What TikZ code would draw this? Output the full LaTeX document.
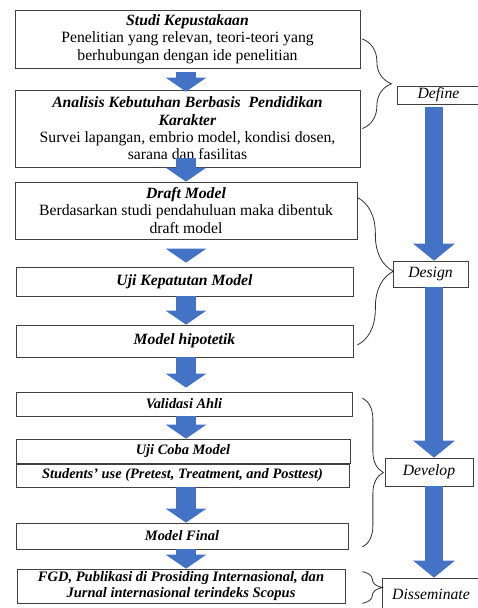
\documentclass[tikz,border=0pt]{standalone}
\usepackage{fontspec}
\setmainfont{Liberation Serif}
\usetikzlibrary{arrows.meta,decorations.pathreplacing,positioning}
\definecolor{arrowblue}{HTML}{4472C4}

\begin{document}
\begin{tikzpicture}[x=0.03cm,y=-0.03cm,
    box/.style={draw=black!75,line width=0.6pt,fill=white,inner sep=0pt,align=center,font=\fontsize{13.4}{14.8}\selectfont},
    smallbox/.style={box,font=\fontsize{12.3}{14}\selectfont\bfseries\itshape},
    stage/.style={draw=black!75,line width=0.6pt,fill=white,inner sep=0pt,font=\fontsize{13.4}{15}\selectfont\itshape},
    flow/.style={draw=arrowblue,line width=0.6cm,-{Triangle[width=1.2cm,length=0.42cm]}},
    phase/.style={draw=arrowblue,line width=0.54cm,-{Triangle[width=1.23cm,length=0.51cm]}},
    curly/.style={decorate,decoration={brace,amplitude=#1},draw=black!80,line width=0.7pt}]
    \useasboundingbox (0,0) rectangle (478,608);

    \node[box,minimum width=10.35cm,minimum height=1.74cm] (b1) at (187.5,39)
        {\textbf{\textit{Studi Kepustakaan}}\\Penelitian yang relevan, teori-teori yang\\berhubungan dengan ide penelitian};
    \node[box,minimum width=10.35cm,minimum height=2.31cm] (b2) at (187.5,128.5)
        {\textbf{\textit{Analisis Kebutuhan Berbasis\ \ Pendidikan}}\\\textbf{\textit{Karakter}}\\Survei lapangan, embrio model, kondisi dosen,\\sarana dan fasilitas};
    \node[box,minimum width=10.26cm,minimum height=1.71cm] (b3) at (186,210.5)
        {\textbf{\textit{Draft Model}}\\Berdasarkan studi pendahuluan maka dibentuk\\draft model};
    \node[box,minimum width=10.11cm,minimum height=0.87cm] (b4) at (184.5,281.5) {\textbf{\textit{Uji Kepatutan Model}}};
    \node[box,minimum width=10.11cm,minimum height=0.96cm] (b5) at (184.5,341) {\textbf{\textit{Model hipotetik}}};
    \node[smallbox,minimum width=10.08cm,minimum height=0.72cm] (b6) at (184,404) {Validasi Ahli};
    \node[smallbox,minimum width=10.02cm,minimum height=0.72cm] (b7) at (183,451) {Uji Coba Model};
    \node[smallbox,minimum width=9.99cm,minimum height=0.69cm] (b8) at (182.5,475.5) {Students' use (Pretest, Treatment, and Posttest)};
    \node[smallbox,minimum width=9.96cm,minimum height=0.78cm] (b9) at (182,536) {Model Final};
    \node[box,minimum width=9.84cm,minimum height=1.02cm,font=\fontsize{12.4}{14}\selectfont\bfseries\itshape] (b10) at (181,586)
        {FGD, Publikasi di Prosiding Internasional, dan\\Jurnal internasional terindeks Scopus};

    \node[stage,minimum width=2.49cm,minimum height=0.54cm] (define) at (438.5,95) {Define};
    \node[stage,minimum width=2.25cm,minimum height=0.78cm] (design) at (430.5,274) {Design};
    \node[stage,minimum width=2.64cm,minimum height=0.84cm] (develop) at (429,472) {Develop};
    \node[stage,minimum width=2.94cm,minimum height=0.96cm] (dissem) at (431,594) {Disseminate};

    \coordinate (axis) at (186,0);
    \coordinate (spine) at (434,0);

    \draw[flow,shorten <=0.12cm,shorten >=-0.06cm] (b1.south -| axis) -- (b2.north -| axis);
    \draw[flow,shorten <=-0.27cm] (b2.south -| axis) -- (b3.north -| axis);
    \draw[flow,shorten <=0.36cm,shorten >=0.12cm] (b3.south -| axis) -- (b4.north -| axis);
    \draw[flow] (b4.south -| axis) -- (b5.north -| axis);
    \draw[flow,shorten >=0.12cm] (b5.south -| axis) -- (b6.north -| axis);
    \draw[flow] (b6.south -| axis) -- (b7.north -| axis);
    \draw[flow] (b8.south -| axis) -- (b9.north -| axis);
    \draw[flow] (b9.south -| axis) -- (b10.north -| axis);

    \draw[phase,shorten <=0.09cm] (define.south -| spine) -- (design.north -| spine);
    \draw[phase] (design.south -| spine) -- (develop.north -| spine);
    \draw[phase] (develop.south -| spine) -- (dissem.north -| spine);

    \draw[curly=0.87cm] ([xshift=0.06cm]b1.east) -- ([xshift=0.06cm]b2.east);
    \draw[curly=1.08cm] ([yshift=0.39cm]b3.east) -- ([shift={(0.12cm,-0.12cm)}]b5.east);
    \draw[curly=0.63cm] ([shift={(0.3cm,0.18cm)}]b6.east) -- ([shift={(0.42cm,-0.33cm)}]b9.east);
    \draw[curly=0.6cm] ([shift={(0.51cm,-0.09cm)}]b10.north east) -- ([xshift=0.51cm]b10.south east);
\end{tikzpicture}
\end{document}
